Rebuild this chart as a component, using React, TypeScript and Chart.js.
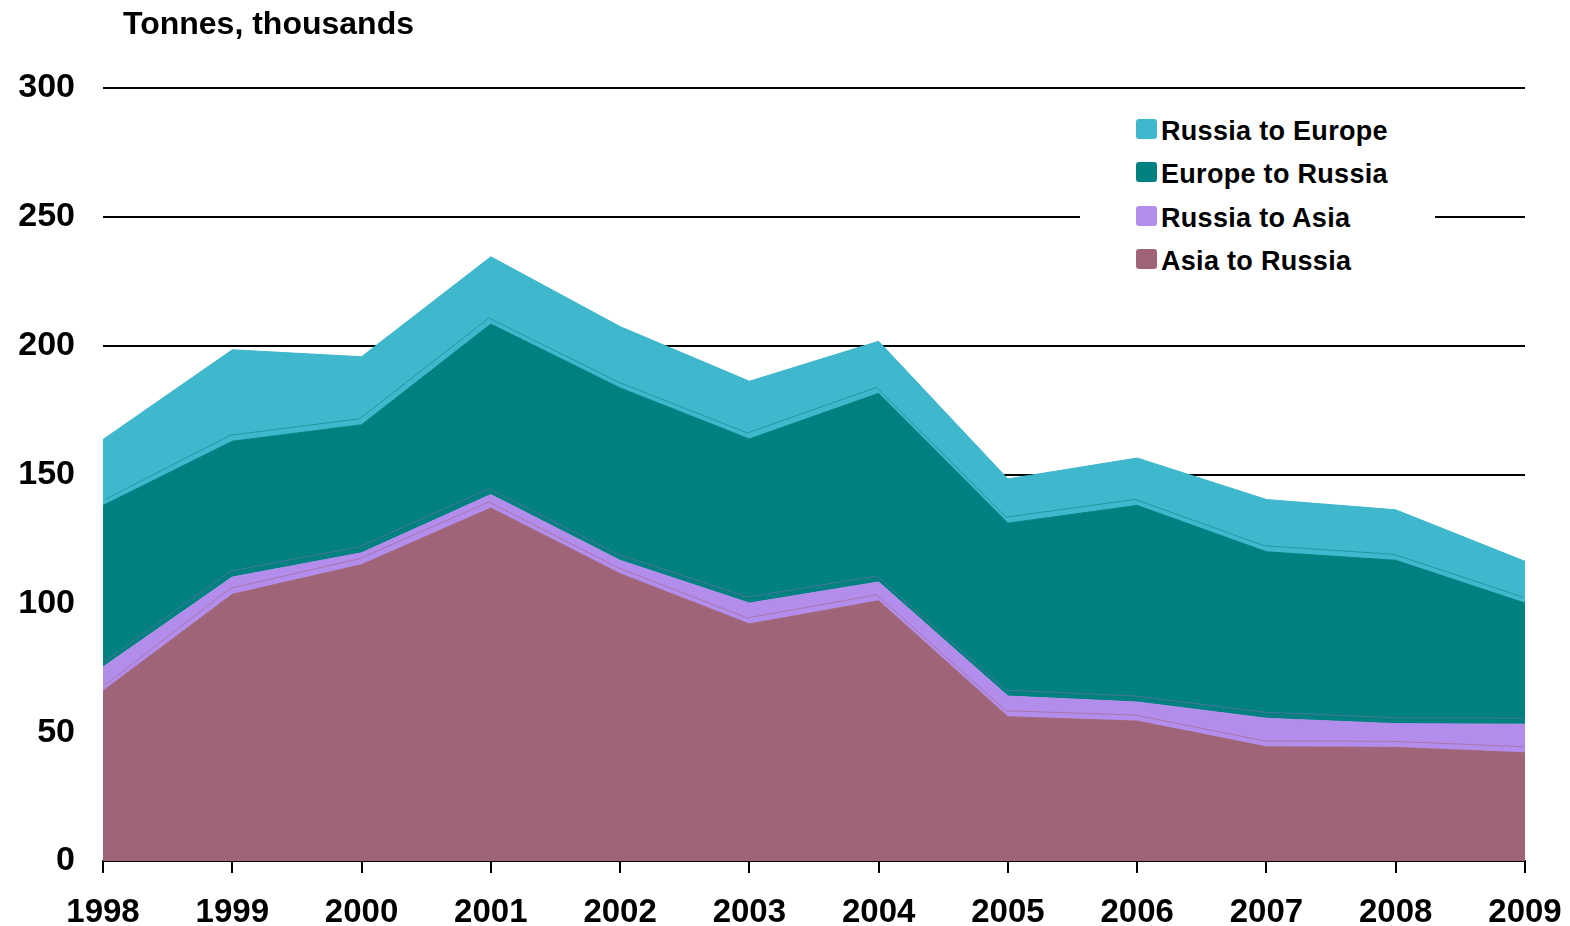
import React, { useEffect, useRef } from "react";
import { Chart, registerables } from "chart.js";

Chart.register(...registerables);

const years = ["1998", "1999", "2000", "2001", "2002", "2003", "2004", "2005", "2006", "2007", "2008", "2009"];
const asiaToRussia = [66, 103.5, 115, 137, 111.5, 92, 101, 56, 54.3, 44.3, 44.1, 42];
const russiaToAsia = [9.3, 6.7, 4.6, 5.2, 5.2, 8.1, 7.3, 8, 7.4, 11.1, 9.2, 11.1];
const europeToRussia = [62.7, 52.7, 49.7, 66.2, 66.9, 63.7, 73.2, 67.1, 76.3, 64.6, 63.4, 47];
const russiaToEurope = [25.6, 35.5, 26.4, 26.1, 23.8, 22.4, 20.2, 17.2, 18.4, 20.3, 19.6, 16.2];
const yTicks = [0, 50, 100, 150, 200, 250, 300];

const seriesNames = ["Asia to Russia", "Russia to Asia", "Europe to Russia", "Russia to Europe"];
const seriesColors = ["#A06478", "#B28DEB", "#008080", "#3FB7CC"];
const seriesShadow = ["rgba(160,100,120,0.55)", "rgba(130,110,170,0.55)", "rgba(0,110,120,0.45)"];

const FONT = "'Liberation Sans', Arial, Helvetica, sans-serif";

const depthLines = {
  id: "depthLines",
  afterDatasetsDraw(chart: any) {
    const ctx = chart.ctx;
    const area = chart.chartArea;
    ctx.save();
    ctx.beginPath();
    ctx.rect(area.left, area.top, area.right - area.left, area.bottom - area.top);
    ctx.clip();
    for (let i = 0; i < 3; i++) {
      const meta = chart.getDatasetMeta(i);
      const pts = meta.data;
      ctx.beginPath();
      pts.forEach((p: any, k: number) => {
        const x = p.x - 2 + (k === 0 ? 4 : 0);
        const y = p.y - 6;
        if (k === 0) ctx.moveTo(x, y);
        else ctx.lineTo(x, y);
      });
      ctx.strokeStyle = seriesShadow[i];
      ctx.lineWidth = 1;
      ctx.stroke();
    }
    ctx.restore();
  },
};

export default function App() {
  const canvasRef = useRef<HTMLCanvasElement | null>(null);

  useEffect(() => {
    const data = [asiaToRussia, russiaToAsia, europeToRussia, russiaToEurope];
    const chart = new Chart(canvasRef.current as HTMLCanvasElement, {
      type: "line",
      data: {
        labels: years,
        datasets: data.map((d, i) => ({
          label: seriesNames[i],
          data: d,
          backgroundColor: seriesColors[i],
          borderColor: seriesColors[i],
          borderWidth: 1,
          pointRadius: 0,
          tension: 0,
          fill: i === 0 ? "origin" : "-1",
        })),
      },
      options: {
        animation: false,
        responsive: false,
        devicePixelRatio: 1,
        layout: { padding: { top: 88, right: 45, left: 0, bottom: 0 } },
        plugins: {
          legend: { display: false },
          title: { display: false },
          tooltip: { enabled: false },
        },
        scales: {
          x: {
            type: "category",
            offset: false,
            grid: {
              display: true,
              drawOnChartArea: false,
              drawTicks: true,
              tickLength: 12,
              color: "#000",
              lineWidth: 2,
            },
            border: { display: true, color: "#000", width: 2 },
            ticks: {
              color: "#000",
              font: { family: FONT, size: 33, weight: "bold" },
              padding: 20,
              maxRotation: 0,
              autoSkip: false,
            },
            afterFit: (s: any) => {
              s.height = 65;
              s.paddingLeft = 0;
              s.paddingRight = 0;
            },
          },
          y: {
            stacked: true,
            min: 0,
            max: 300,
            afterBuildTicks: (s: any) => {
              s.ticks = yTicks.map((v) => ({ value: v }));
            },
            grid: {
              color: (c: any) => (c.tick && c.tick.value === 0 ? "rgba(0,0,0,0)" : "#000"),
              lineWidth: 2,
              drawTicks: false,
            },
            border: { display: false },
            ticks: {
              color: "#000",
              font: { family: FONT, size: 34, weight: "bold" },
              padding: 28,
            },
            afterFit: (s: any) => {
              s.width = 103;
              s.paddingTop = 0;
              s.paddingBottom = 0;
            },
          },
        },
      },
      plugins: [depthLines],
    });
    return () => chart.destroy();
  }, []);

  const legendOrder = [3, 2, 1, 0];

  return (
    <div style={{ position: "absolute", left: 0, top: 0, width: 1570, height: 926, background: "#fff" }}>
      <canvas ref={canvasRef} width={1570} height={926} style={{ position: "absolute", left: 0, top: 0 }} />
      <div
        style={{
          position: "absolute",
          left: 123,
          top: 7,
          fontFamily: FONT,
          fontWeight: "bold",
          fontSize: 32,
          lineHeight: "32px",
          color: "#000",
          whiteSpace: "nowrap",
        }}
      >
        Tonnes, thousands
      </div>
      <div
        style={{
          position: "absolute",
          left: 1080,
          top: 102,
          width: 355,
          height: 180,
          background: "#fff",
        }}
      >
        {legendOrder.map((si, row) => (
          <div key={si} style={{ position: "absolute", left: 0, top: row * 43.3, height: 43, width: 355 }}>
            <div
              style={{
                position: "absolute",
                left: 56,
                top: 17,
                width: 21,
                height: 20,
                borderRadius: 3,
                background: seriesColors[si],
              }}
            />
            <div
              style={{
                position: "absolute",
                left: 81,
                top: 16,
                fontFamily: FONT,
                fontWeight: "bold",
                fontSize: 27,
                lineHeight: "27px",
                color: "#000",
                whiteSpace: "nowrap",
                letterSpacing: 0.3,
              }}
            >
              {seriesNames[si]}
            </div>
          </div>
        ))}
      </div>
    </div>
  );
}
